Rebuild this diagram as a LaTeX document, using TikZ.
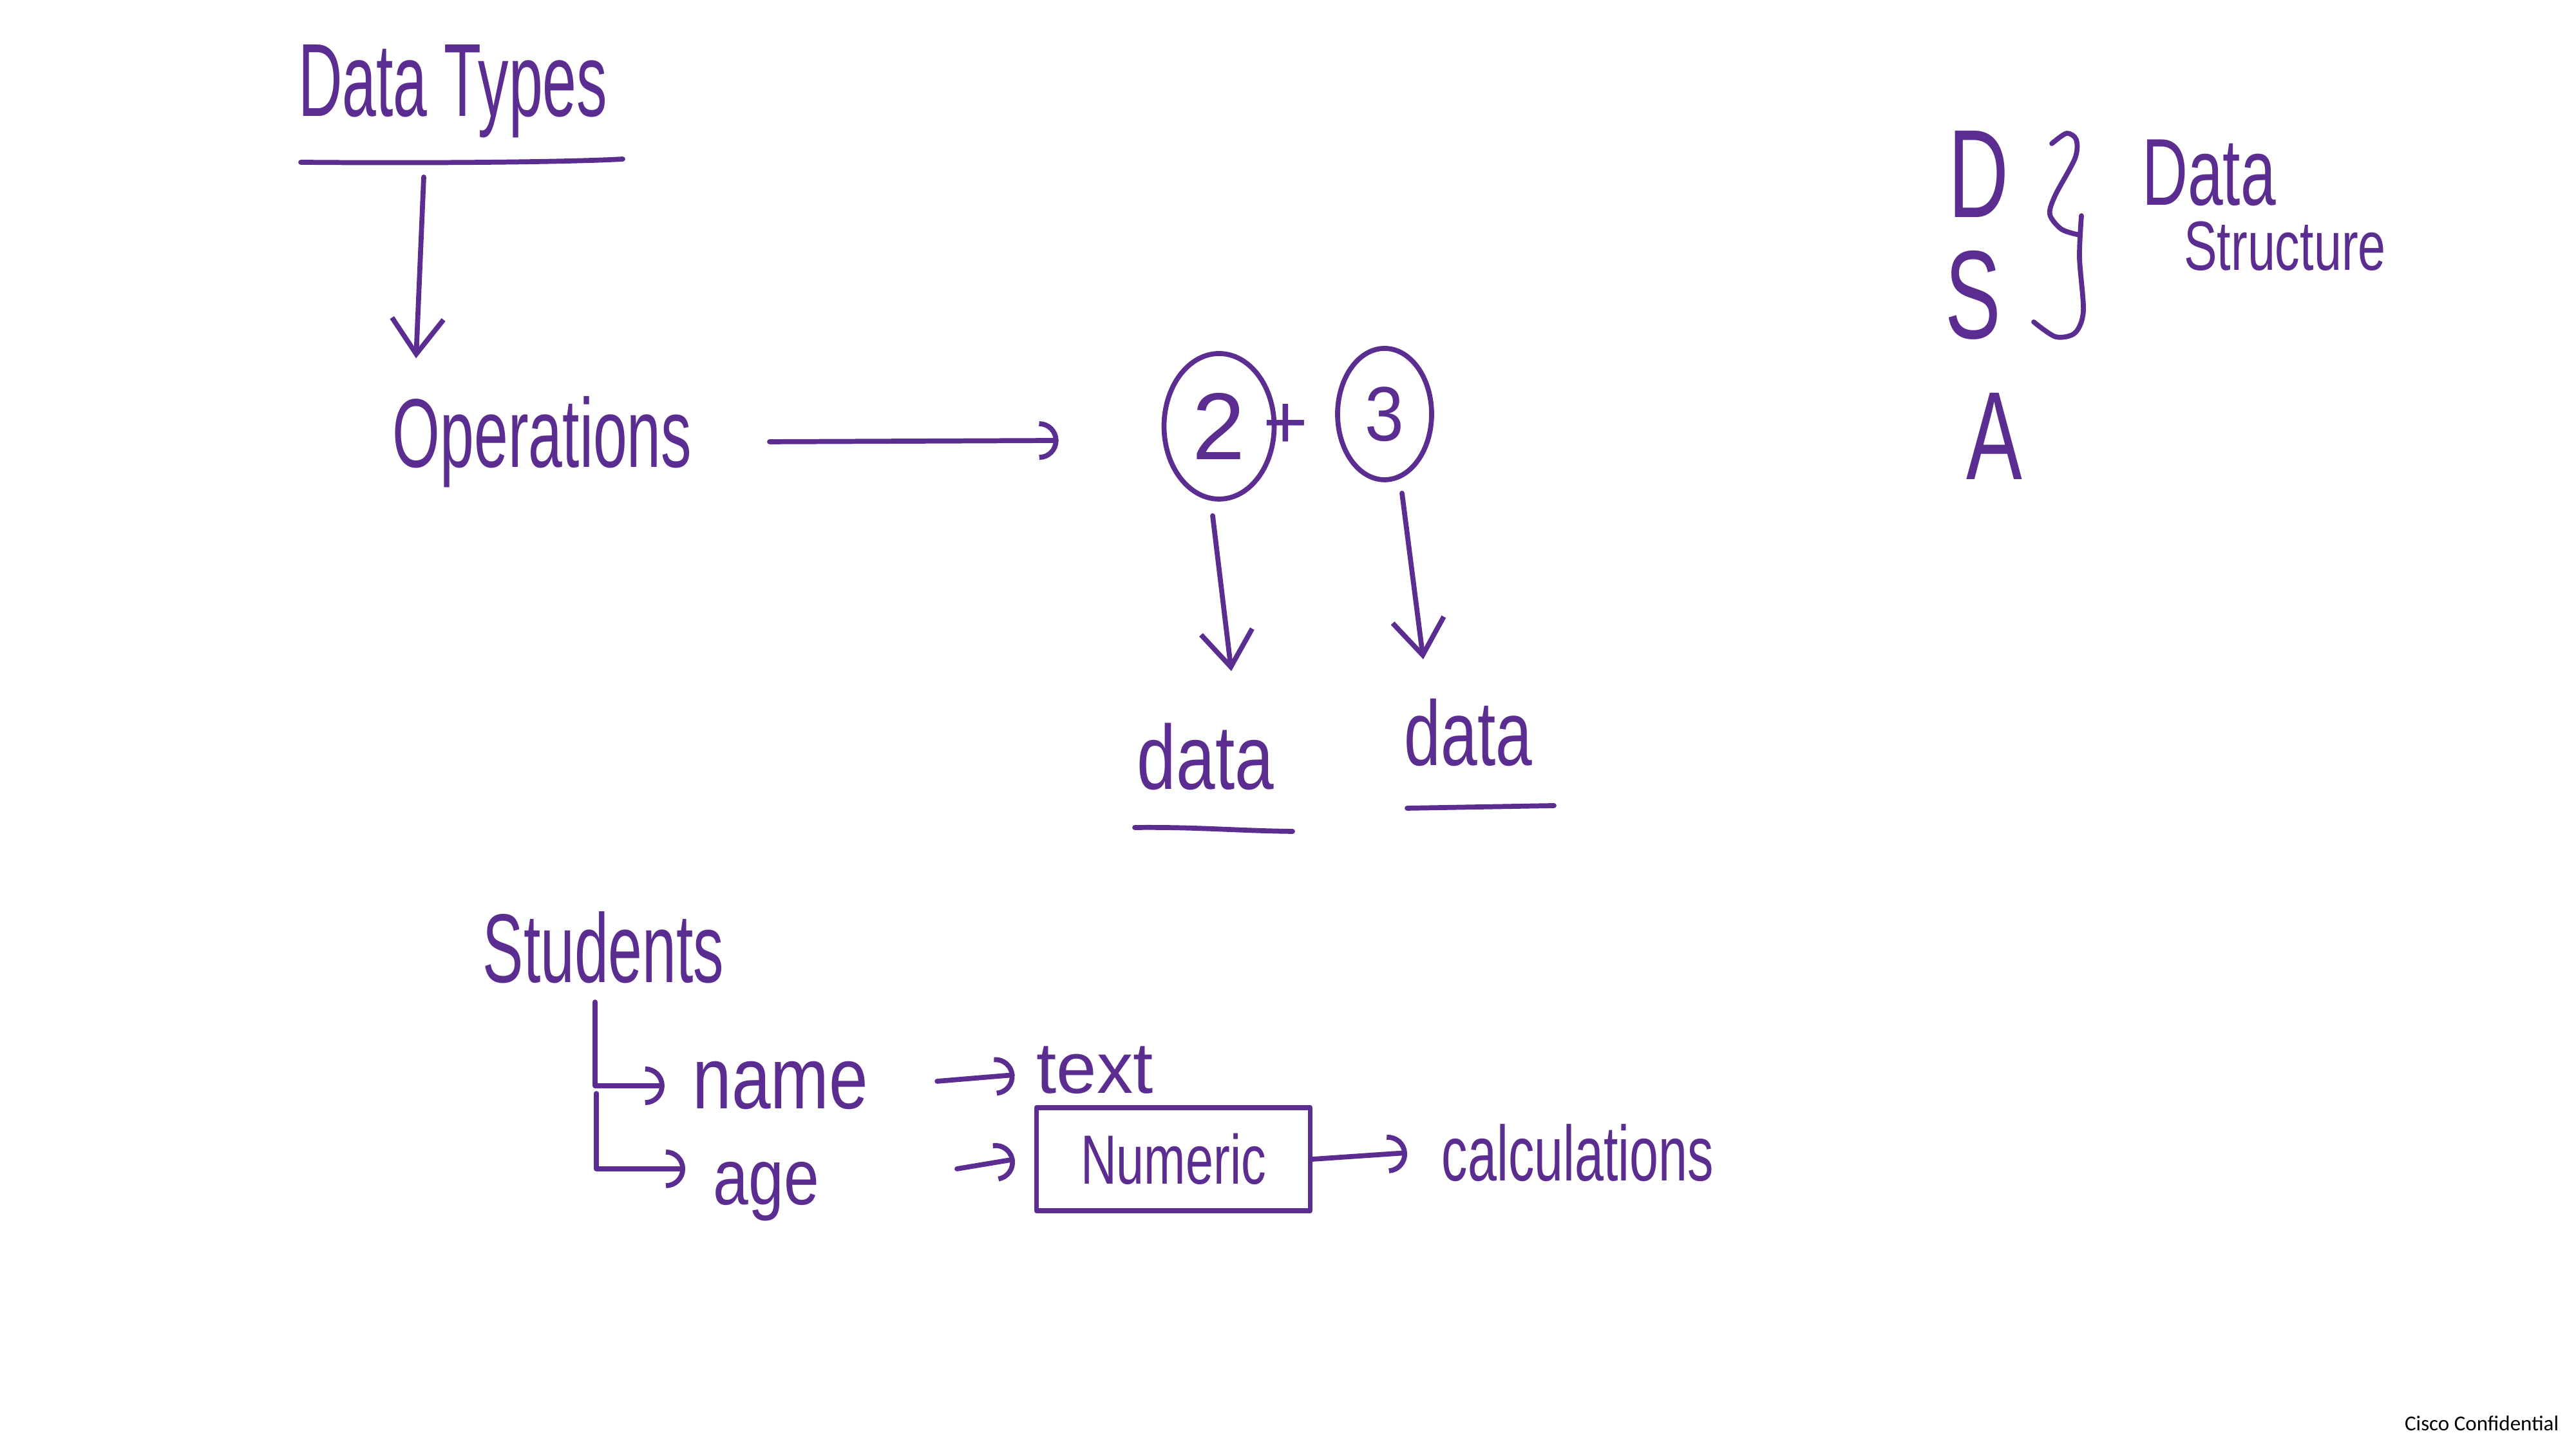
\documentclass[tikz,border=0pt]{standalone}
\usepackage{fontspec}
\usepackage{graphicx}
\newfontfamily\handfont{Liberation Sans}
\newfontfamily\slidefont{Carlito}
\usetikzlibrary{arrows.meta, shapes.geometric}
\definecolor{ink}{RGB}{92,45,145}
\newcommand{\tallby}[2]{\scalebox{1}[#1]{#2}}

\begin{document}
\begin{tikzpicture}[>={Straight Barb[length=5.5mm,width=8mm]}, color=ink,
    line width=2.2pt, line cap=round, line join=round,
    hand/.style={text=ink, inner sep=0pt, font=\handfont\fontsize{#1}{#1}\selectfont},
    egg/.style={ellipse, draw=ink, inner sep=0pt},
    curl/.style={-{Arc Barb[length=3mm,width=6mm]}}]

    \useasboundingbox (0,0) rectangle (40,22.5);
    \fill [white] (0,0) rectangle (40,22.5);

    % --- 1. Data Types heading ---
    \node [hand=27pt] (dtypes) at (7.03, 21.08) {\tallby{1.7}{Data Types}};
    \coordinate (dt-ul-l) at (4.67, 19.98);
    \coordinate (dt-ul-r) at (9.67, 20.03);
    \draw (dt-ul-l) .. controls (7, 19.96) and (9, 19.99) .. (dt-ul-r);
    \coordinate (dt-down) at (6.58, 19.75);

    % --- 2. Operations ---
    \node [hand=27pt] (ops) at (8.42, 15.64) {\tallby{1.6}{Operations}};
    \draw [->] (dt-down) -- ([shift={(0.4,0.55)}]ops.north west);

    % --- 3. Two plus three ---
    \node [egg, minimum width=1.71cm, minimum height=2.26cm, hand=42pt] (two) at (18.93, 15.88) {2};
    \node [hand=34pt] (plus) at (19.96, 15.88) {+};
    \node [egg, minimum width=1.46cm, minimum height=2.04cm, hand=31pt] (three) at (21.5, 16.07) {\tallby{1.1}{3}};
    \draw [curl] ([xshift=1.17cm]ops.east) -- ([shift={(-1.6cm,-0.22cm)}]two.west);

    % --- 4. data labels ---
    \node [hand=31pt] (dat1) at (18.72, 10.75) {\tallby{1.3}{data}};
    \node [hand=29pt] (dat2) at (22.8, 11.12) {\tallby{1.4}{data}};
    \draw [->] ([shift={(-0.1,-0.22)}]two.south) -- ([shift={(0.4,0.77)}]dat1.north);
    \draw [->] ([shift={(0.27,-0.17)}]three.south) -- ([shift={(-0.7,0.58)}]dat2.north);
    \draw (17.62, 9.65) .. controls (18.6, 9.66) and (19.2, 9.6) .. (20.07, 9.59);
    \draw (21.85, 9.95) -- (24.13, 9.99);

    % --- 5. DSA and brace ---
    \node [hand=37pt] (dsD) at (30.72, 19.8) {\tallby{1.5}{D}};
    \node [hand=37pt] (dsS) at (30.64, 17.92) {\tallby{1.5}{S}};
    \node [hand=37pt] (dsA) at (30.97, 15.73) {\tallby{1.5}{A}};
    \draw plot [smooth] coordinates {(31.86,20.27) (32.09,20.43) (32.24,20.33) (32.22,20.04)
        (31.91,19.46) (31.83,19.17) (32.01,18.94) (32.29,18.85)};
    \draw plot [smooth] coordinates {(32.32,19.15) (32.29,18.5) (32.35,17.67) (32.22,17.33)
        (31.92,17.27) (31.58,17.5)};
    \node [hand=28pt] (dsdata) at (34.3, 19.82) {\tallby{1.5}{Data}};
    \node [hand=22pt] (dsstruct) at (35.48, 18.68) {\tallby{1.4}{Structure}};

    % --- 6. Students tree ---
    \node [hand=27pt] (stud) at (9.37, 7.79) {\tallby{1.6}{Students}};
    \coordinate (st-top) at (9.24, 6.94);
    \coordinate (st-mid) at (9.26, 5.52);
    \node [hand=31pt] (name) at (12.12, 5.64) {\tallby{1.25}{name}};
    \node [hand=28pt] (age) at (11.9, 4.0) {\tallby{1.25}{age}};
    \draw [curl] (st-top) |- ([xshift=-4mm]name.west);
    \draw [curl] (st-mid) |- ([shift={(-4mm,3.5mm)}]age.west);

    \node [hand=32pt] (txt) at (17.0, 5.88) {text};
    \draw [curl] ([shift={(1.03cm,0.7mm)}]name.east) -- ([shift={(-3mm,-0.7mm)}]txt.west);

    \node [draw, minimum width=4.25cm, minimum height=1.6cm, hand=22pt] (num) at (18.22, 4.5) {\tallby{1.4}{Numeric}};
    \draw [curl] ([shift={(2.1cm,3.5mm)}]age.east) -- ([xshift=-3mm]num.west);

    \node [hand=23pt] (calc) at (24.5, 4.6) {\tallby{1.5}{calculations}};
    \draw [curl] (num.east) -- ([xshift=-5mm]calc.west);

    % --- 7. Footer ---
    \node [anchor=base east, text=black, inner sep=0pt, font=\slidefont\fontsize{9.4}{11}\selectfont] (conf) at (39.77, 0.28) {Cisco Confidential};

\end{tikzpicture}
\end{document}
